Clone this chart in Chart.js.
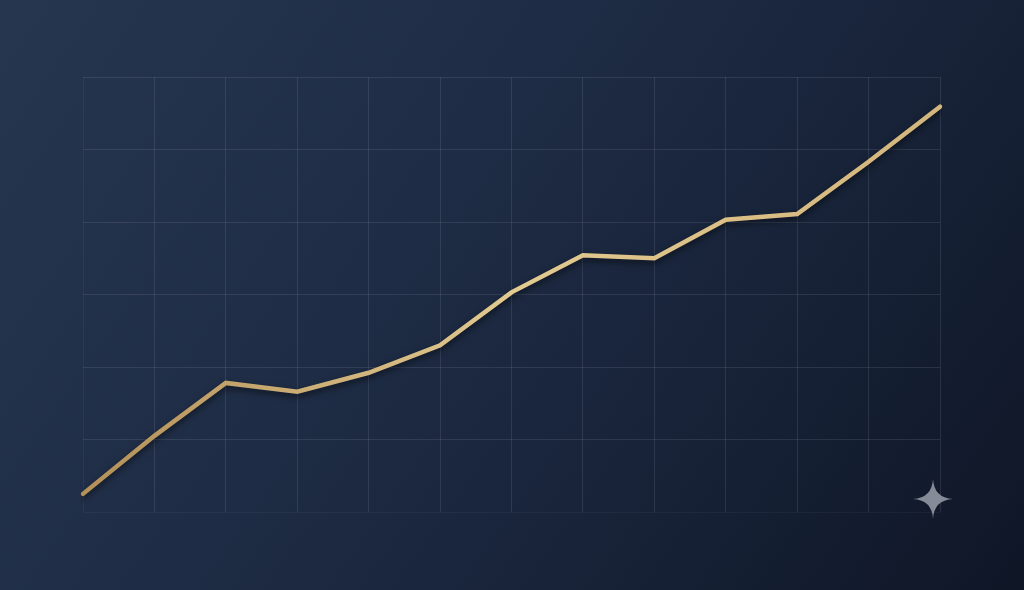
<!DOCTYPE html>
<html>
<head>
<meta charset="utf-8">
<script src="https://cdn.jsdelivr.net/npm/chart.js@4"></script>
<style>
html,body{margin:0;padding:0;}
body{
    width:1024px;height:590px;overflow:hidden;position:relative;
    background:linear-gradient(125deg,#27364f 0%,#1e2c45 40%,#172237 70%,#0f1626 100%);
}
#wrap{position:absolute;left:0;top:0;width:1024px;height:590px;}
#spark{position:absolute;left:912px;top:478px;width:42px;height:42px;}
</style>
</head>
<body>
<div id="wrap"><canvas id="myChart"></canvas></div>
<svg id="spark" viewBox="0 0 40 40"><path d="M20 1 Q21 19 39 20 Q21 21 20 39 Q19 21 1 20 Q19 19 20 1Z" fill="#858c98"/></svg>
<script>
var labels=["1","2","3","4","5","6","7","8","9","10","11","12","13"];
var values=[2.5,10.5,17.8,16.6,19.2,23,30.3,35.4,35,40.3,41.1,48.3,55.9];
var yTicks=[0,10,20,30,40,50,60];

var gridColor="rgba(190,195,205,0.13)";
var edgeColor="rgba(190,195,205,0.06)";

function goldGradient(context){
    var chart=context.chart;
    var area=chart.chartArea;
    if(!area) return "#d4b87c";
    var g=chart.ctx.createLinearGradient(area.left,0,area.right,0);
    g.addColorStop(0,"#b39058");
    g.addColorStop(0.5,"#e2ca90");
    g.addColorStop(0.8,"#d9bd84");
    g.addColorStop(1,"#d3b67c");
    return g;
}

function xGrid(c){
    return (c.index===0) ? edgeColor : gridColor;
}
function yGrid(c){
    return (c.index===0) ? edgeColor : gridColor;
}

// soft dark shadow under the line
var lineShadow={
    id:"lineShadow",
    beforeDatasetDraw:function(chart){
        var ctx=chart.ctx;
        ctx.save();
        ctx.shadowColor="rgba(0,0,0,0.55)";
        ctx.shadowBlur=6;
        ctx.shadowOffsetY=3;
    },
    afterDatasetDraw:function(chart){
        chart.ctx.restore();
    }
};

var ctx=document.getElementById("myChart").getContext("2d");
var myChart=new Chart(ctx,{
    type:"line",
    data:{
        labels:labels,
        datasets:[{
            data:values,
            borderColor:goldGradient,
            borderWidth:4.5,
            borderCapStyle:"round",
            borderJoinStyle:"miter",
            pointRadius:0,
            tension:0,
            fill:false
        }]
    },
    options:{
        responsive:true,
        maintainAspectRatio:false,
        animation:false,
        layout:{padding:{left:83,right:84,top:77,bottom:78}},
        plugins:{legend:{display:false},tooltip:{enabled:false}},
        scales:{
            x:{
                offset:false,
                grid:{color:xGrid,lineWidth:1,drawTicks:false},
                border:{display:false},
                ticks:{display:false}
            },
            y:{
                min:0,max:60,
                afterBuildTicks:function(axis){
                    axis.ticks=yTicks.map(function(v){return {value:v};});
                },
                grid:{color:yGrid,lineWidth:1,drawTicks:false},
                border:{display:false},
                ticks:{display:false}
            }
        }
    },
    plugins:[lineShadow]
});
</script>
</body>
</html>
